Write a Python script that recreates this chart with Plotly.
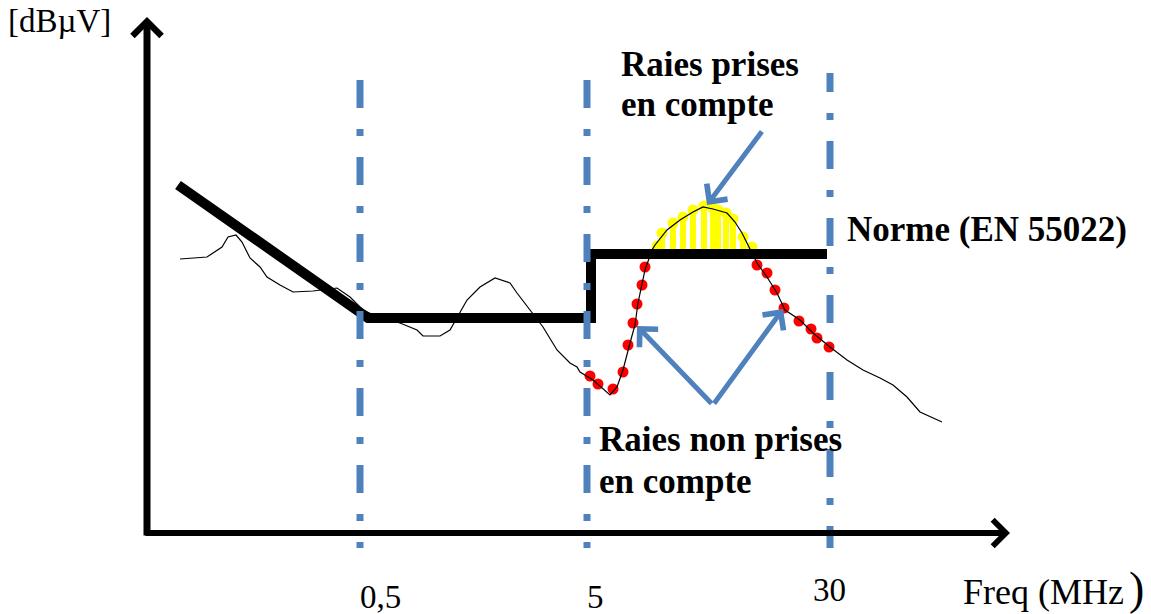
import plotly.graph_objects as go

# ---- data (schematic units: x = horizontal position, y = vertical position, downward) ----
noise_x = [180, 207, 222, 228, 236, 242, 250, 260, 267, 280, 293, 313, 337, 350, 363, 380, 400, 407,
           417, 423, 440, 450, 460, 467, 480, 495, 510, 517, 530, 543, 557, 570, 577, 580, 593, 610,
           617, 623, 630, 635, 638, 642, 645, 652, 655, 667, 680, 693, 703, 713, 727, 735, 742, 748,
           757, 767, 777, 785, 800, 813, 830, 847, 863, 880, 893, 907, 920, 942]
noise_y = [259, 257, 247, 237, 235, 242, 258, 267, 277, 285, 292, 291, 288, 297, 310, 318, 323, 326,
           330, 336, 336, 330, 313, 300, 287, 278, 283, 293, 310, 327, 350, 363, 367, 372, 380, 395,
           387, 370, 343, 325, 303, 283, 270, 250, 245, 230, 220, 212, 207, 209, 213, 222, 233, 245,
           263, 277, 293, 310, 320, 333, 347, 360, 370, 378, 385, 397, 412, 422]

norm_x = [178, 361, 368, 591, 591, 827]
norm_y = [185, 313, 318, 318, 254, 254]

red_x = [590, 598, 613, 623, 628, 633, 637, 642, 645, 757, 767, 775, 784, 799, 811, 817, 829]
red_y = [376, 384, 389, 372, 345, 323, 304, 285, 267, 265, 273, 290, 308, 321, 329, 338, 347]

stem_x = [657, 662, 673, 683, 693, 704, 713, 718, 726, 733, 743, 752]
stem_top = [246, 233, 223, 217, 210, 206, 208, 210, 213, 219, 237, 247]
stem_base = 250

boundary_x = [360, 587, 830]
tick_labels = ["0,5", "5", "30"]
tick_label_x = [380, 595, 829]

# ---- styles ----
BLUE = "#4F81BD"
SERIF = "Liberation Serif, Times New Roman, serif"

fig = go.Figure()

# yellow stems (lines taken into account)
sx, sy = [], []
for x, t in zip(stem_x, stem_top):
    sx += [x, x, None]
    sy += [t, stem_base, None]
fig.add_trace(go.Scatter(x=sx, y=sy, mode="lines", line=dict(color="#FFFF00", width=6),
                         hoverinfo="skip", showlegend=False))
fig.add_trace(go.Scatter(x=stem_x, y=stem_top, mode="markers",
                         marker=dict(color="#FFFF00", size=11), hoverinfo="skip", showlegend=False))

# norm limit (thick black)
fig.add_trace(go.Scatter(x=norm_x, y=norm_y, mode="lines",
                         line=dict(color="black", width=10), hoverinfo="skip", showlegend=False))

# boundary dash-dot lines
dash_std = "28px,21px,7px,21px"
dash_30 = "19px,21px,7px,21px," + ",".join(["28px,21px,7px,21px"] * 7)
for i, bx in enumerate(boundary_x):
    top = 73 if i == 2 else 80
    fig.add_trace(go.Scatter(x=[bx, bx], y=[top, 548], mode="lines",
                             line=dict(color=BLUE, width=7, dash=dash_30 if i == 2 else dash_std),
                             hoverinfo="skip", showlegend=False))

# red dots (lines not taken into account)
fig.add_trace(go.Scatter(x=red_x, y=red_y, mode="markers",
                         marker=dict(color="#FF0000", size=11), hoverinfo="skip", showlegend=False))

# measured spectrum (thin black)
fig.add_trace(go.Scatter(x=noise_x, y=noise_y, mode="lines",
                         line=dict(color="black", width=1.2), hoverinfo="skip", showlegend=False))

annotations = []


def arrow(x, y, ax, ay, color, width, size):
    annotations.append(dict(x=x, y=y, ax=ax, ay=ay, xref="x", yref="y", axref="x", ayref="y",
                            text="", showarrow=True, arrowhead=4, arrowsize=size,
                            arrowwidth=width, arrowcolor=color, standoff=0, startstandoff=0))


# axes arrows
arrow(147, 17, 147, 537, "black", 7, 0.8)
arrow(1010, 533, 144, 533, "black", 6, 0.85)
# blue pointer arrows
arrow(707, 205, 763, 130, BLUE, 5, 1.0)
arrow(637, 326, 713, 405, BLUE, 5, 1.0)
arrow(783, 309, 713, 405, BLUE, 5, 1.0)


def label(txt, x, y, size, bold=False, anchor="left"):
    annotations.append(dict(x=x, y=y, xref="x", yref="y", text=f"<b>{txt}</b>" if bold else txt,
                            showarrow=False, xanchor=anchor, yanchor="middle",
                            font=dict(family=SERIF, size=size, color="black")))


label("[dBµV]", 6, 21, 33)
label("Raies prises", 619, 64, 35, bold=True)
label("en compte", 619, 104, 35, bold=True)
label("Norme (EN 55022)", 845, 229, 35, bold=True)
label("Raies non prises", 597, 439, 35, bold=True)
label("en compte", 597, 481, 35, bold=True)
for t, tx in zip(tick_labels, tick_label_x):
    label(t, tx, 597 if t != "30" else 590, 33, anchor="center")
label("Freq (MHz", 961, 592, 36)
label(")", 1127, 588, 46)

fig.update_layout(
    width=1151, height=614,
    margin=dict(l=0, r=0, t=0, b=0),
    paper_bgcolor="white", plot_bgcolor="white",
    xaxis=dict(range=[0, 1151], visible=False, fixedrange=True),
    yaxis=dict(range=[614, 0], visible=False, fixedrange=True),
    annotations=annotations,
    showlegend=False,
)

fig.write_html("out.html", config={"displayModeBar": False},
               post_script="document.body.style.margin='0';")
